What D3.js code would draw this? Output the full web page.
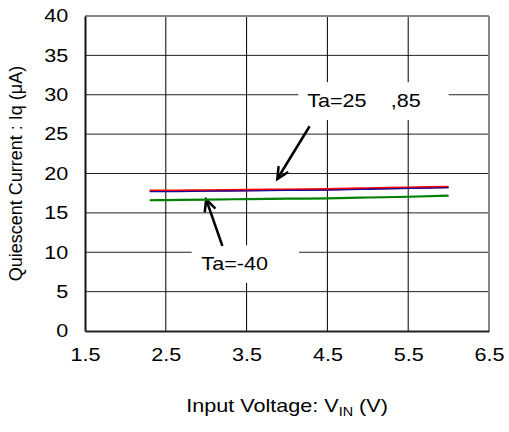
<!DOCTYPE html>
<style>
  body { margin: 0; background: #fff; }
  svg { font-family: "Liberation Sans", Arial, sans-serif; }
  .tick text { font-size: 18px; fill: #000; }
</style>
<svg width="509" height="432"></svg>
<script src="https://d3js.org/d3.v7.min.js"></script>
<script>

// input voltage (V)
var vin = [2.3, 2.5, 3.0, 3.5, 4.0, 4.5, 5.0, 5.5, 6.0];
// quiescent current (uA) per temperature
var iq25 = [17.7, 17.7, 17.75, 17.8, 17.85, 17.9, 18.0, 18.1, 18.2];
var iq85 = [17.8, 17.8, 17.85, 17.9, 17.95, 18.0, 18.1, 18.2, 18.3];
var iqM40 = [16.6, 16.62, 16.68, 16.75, 16.8, 16.85, 16.95, 17.05, 17.2];

var xTicks = [1.5, 2.5, 3.5, 4.5, 5.5, 6.5];
var yTicks = [0, 5, 10, 15, 20, 25, 30, 35, 40];

var svg = d3.select("svg");
var margin = {left: 85, top: 16, right: 20, bottom: 101};
var w = 509 - margin.left - margin.right,
    h = 432 - margin.top - margin.bottom;
var sx = 1.2; // text in the original is a little wide

var x = d3.scaleLinear().domain([1.5, 6.5]).range([0, w]);
var y = d3.scaleLinear().domain([0, 40]).range([h, 0]);

var g = svg.append("g")
    .attr("transform", "translate(" + margin.left + "," + margin.top + ")");

// grid
g.append("g")
  .selectAll("line")
  .data(yTicks.slice(1, -1))
  .enter().append("line")
    .attr("x1", 0).attr("x2", w)
    .attr("y1", function(d) { return y(d); })
    .attr("y2", function(d) { return y(d); })
    .attr("stroke", "#222").attr("stroke-width", 1);

g.append("g")
  .selectAll("line")
  .data(xTicks.slice(1, -1))
  .enter().append("line")
    .attr("y1", 0).attr("y2", h)
    .attr("x1", function(d) { return x(d); })
    .attr("x2", function(d) { return x(d); })
    .attr("stroke", "#000").attr("stroke-width", 1);

// frame
g.append("line").attr("x1", 0).attr("x2", w).attr("y1", 0).attr("y2", 0)
  .attr("stroke", "#888").attr("stroke-width", 2);
g.append("line").attr("x1", w).attr("x2", w).attr("y1", 0).attr("y2", h)
  .attr("stroke", "#888").attr("stroke-width", 2);

// axes
var xAxis = g.append("g")
    .attr("transform", "translate(0," + h + ")")
    .call(d3.axisBottom(x).tickValues(xTicks).tickFormat(d3.format(".1f")).tickSize(0).tickPadding(17));
xAxis.select(".domain").attr("stroke", "#222").attr("stroke-width", 2);
xAxis.selectAll(".tick text").attr("transform", "scale(" + sx + ",1)");

var yAxis = g.append("g")
    .call(d3.axisLeft(y).tickValues(yTicks).tickSize(0).tickPadding(14));
yAxis.select(".domain").attr("stroke", "#111").attr("stroke-width", 2);
yAxis.selectAll(".tick text").attr("transform", "scale(" + sx + ",1)");

// annotation boxes (mask grid)
function label(v0, v1, i0, i1, tv, ti, txt) {
  g.append("rect")
    .attr("x", x(v0)).attr("y", y(i0))
    .attr("width", x(v1) - x(v0)).attr("height", y(i1) - y(i0))
    .attr("fill", "#fff");
  g.append("text")
    .attr("transform", "translate(" + x(tv) + "," + y(ti) + ") scale(" + sx + ",1)")
    .attr("font-size", "18px")
    .text(txt);
}
label(4.14, 6.0, 31.6, 26.8, 4.25, 28.4, "Ta=25\u00a0\u00a0\u00a0\u00a0,85");
label(2.82, 4.15, 10.9, 6.1, 2.94, 7.75, "Ta=-40");

// arrows
function arrow(x0, y0, x1, y1) {
  var ang = Math.atan2(y1 - y0, x1 - x0), L = 13, sp = 0.45;
  g.append("line").attr("x1", x0).attr("y1", y0).attr("x2", x1).attr("y2", y1)
    .attr("stroke", "#000").attr("stroke-width", 2.5);
  g.append("path")
    .attr("d", "M" + (x1 - L * Math.cos(ang - sp)) + "," + (y1 - L * Math.sin(ang - sp)) +
      "L" + x1 + "," + y1 +
      "L" + (x1 - L * Math.cos(ang + sp)) + "," + (y1 - L * Math.sin(ang + sp)))
    .attr("fill", "none").attr("stroke", "#000").attr("stroke-width", 2.5);
}
arrow(x(4.28), y(26.0), x(3.88), y(19.3));
arrow(x(3.2), y(10.8), x(3.0), y(16.7));

// curves
var line = d3.line()
    .x(function(d, i) { return x(vin[i]); })
    .y(function(d) { return y(d); })
    .curve(d3.curveMonotoneX);

g.append("path").datum(iqM40).attr("d", line)
  .attr("fill", "none").attr("stroke", "#008000").attr("stroke-width", 2.2);
g.append("path").datum(iq85).attr("d", line)
  .attr("fill", "none").attr("stroke", "#ff0000").attr("stroke-width", 2.5);
g.append("path").datum(iq25).attr("d", line)
  .attr("fill", "none").attr("stroke", "#1010a0").attr("stroke-width", 1.3);

// axis titles
svg.append("text")
  .attr("transform", "translate(22," + (margin.top + h / 2) + ") rotate(-90)")
  .attr("text-anchor", "middle")
  .attr("font-size", "18px")
  .text("Quiescent Current : Iq (μA)");

var xt = svg.append("text")
  .attr("transform", "translate(" + (margin.left + w / 2) + ",412) scale(" + sx + ",1)")
  .attr("text-anchor", "middle")
  .attr("font-size", "18px");
xt.append("tspan").text("Input Voltage: V");
xt.append("tspan").attr("font-size", "12px").attr("dy", 4).text("IN");
xt.append("tspan").attr("dy", -4).text(" (V)");

</script>
